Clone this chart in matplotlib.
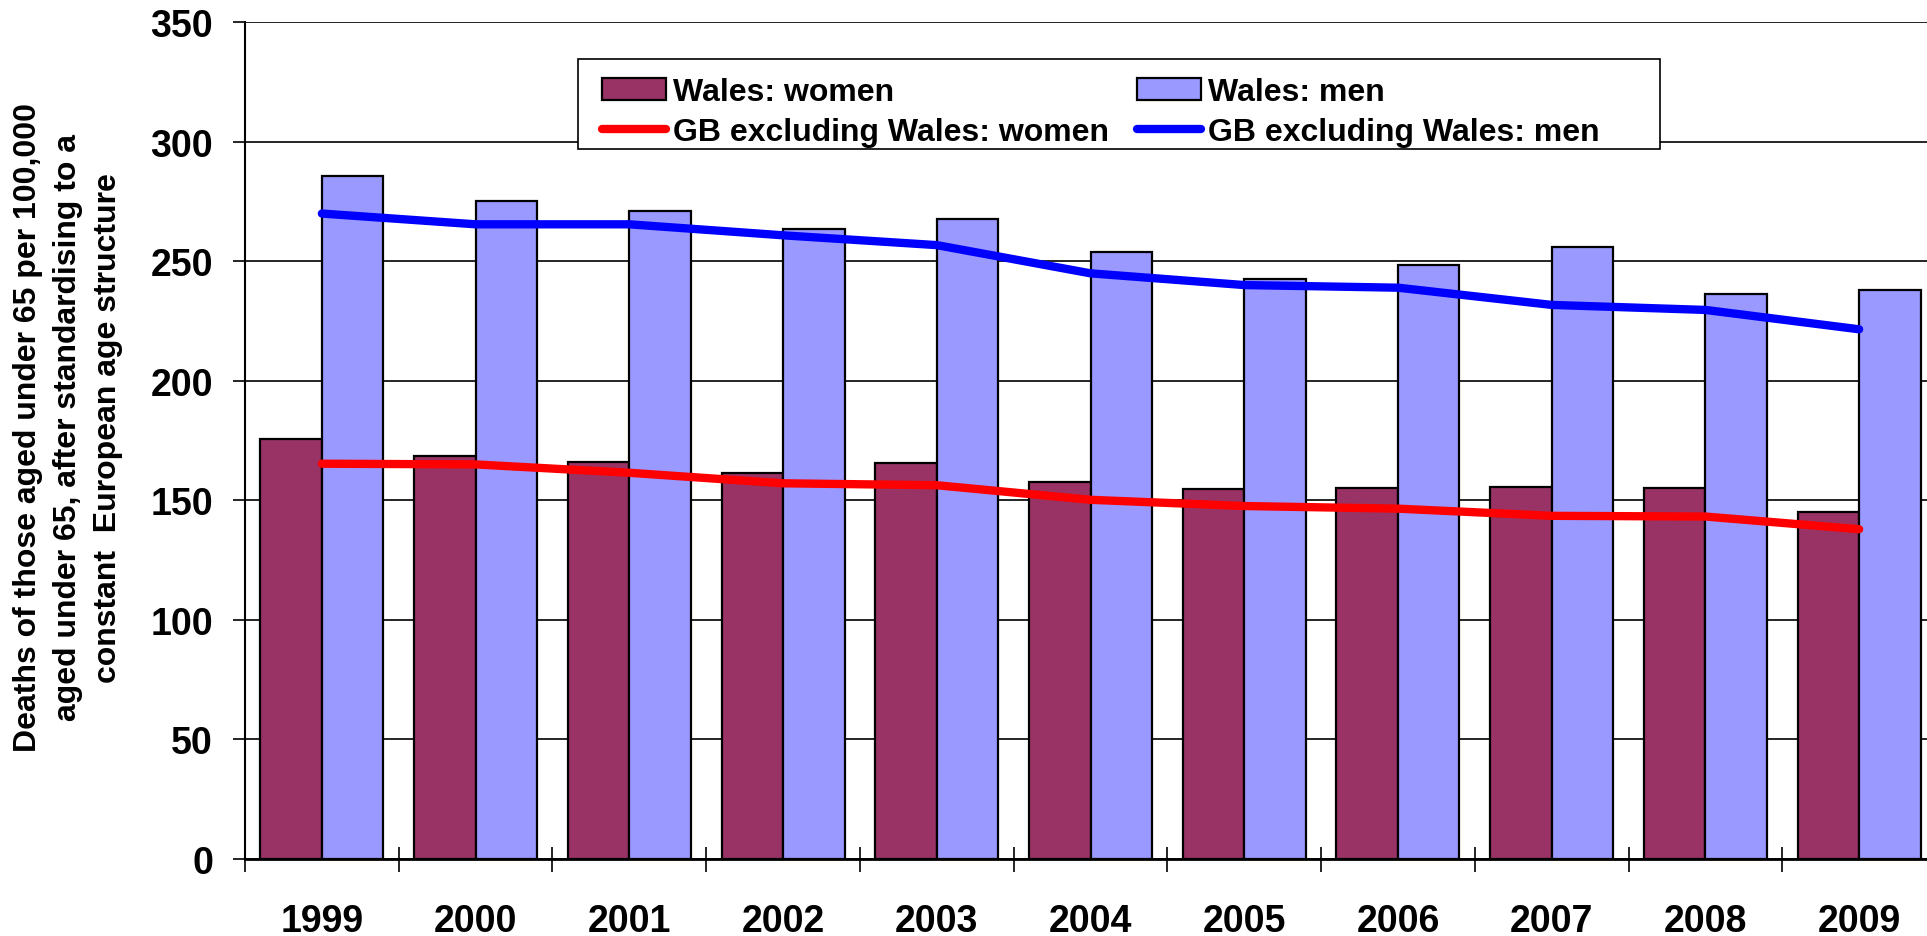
import numpy as np
import matplotlib
matplotlib.use("Agg")
import matplotlib.pyplot as plt
from matplotlib.patches import Rectangle

plt.rcParams['font.family'] = ['Liberation Sans', 'DejaVu Sans']
plt.rcParams['font.weight'] = 'bold'

years = ['1999', '2000', '2001', '2002', '2003', '2004', '2005', '2006', '2007', '2008', '2009']
wales_women = [175.5, 168.5, 166.1, 161.4, 165.7, 157.6, 154.6, 155.3, 155.7, 155.3, 145.0]
wales_men = [285.8, 275.0, 270.8, 263.5, 267.5, 253.8, 242.4, 248.5, 255.8, 236.3, 237.9]
gb_women = [165.3, 165.0, 161.5, 157.1, 156.3, 150.2, 147.6, 146.5, 143.5, 143.2, 137.9]
gb_men = [269.9, 265.4, 265.4, 260.8, 256.7, 244.9, 240.0, 238.9, 231.7, 229.6, 221.5]

W, H = 1927, 937
fig = plt.figure(figsize=(W / 100, H / 100), dpi=100)
ax = fig.add_axes([245 / W, 1 - 860 / H, (1936 - 245) / W, (860 - 23) / H])

x = np.arange(len(years))
b_women = ax.bar(x + 0.1, wales_women, width=0.4, align='edge', color='#993366',
                 edgecolor='black', linewidth=1.6, zorder=2)
b_men = ax.bar(x + 0.5, wales_men, width=0.4, align='edge', color='#9999FF',
               edgecolor='black', linewidth=1.6, zorder=2)
l_women, = ax.plot(x + 0.5, gb_women, color='#FF0000', lw=6, solid_capstyle='round',
                   solid_joinstyle='round', zorder=3)
l_men, = ax.plot(x + 0.5, gb_men, color='#0000FF', lw=6, solid_capstyle='round',
                 solid_joinstyle='round', zorder=3)

ax.set_xlim(0, len(years))
ax.set_ylim(0, 350)
ax.set_yticks(range(0, 351, 50))
ax.yaxis.grid(True, color='black', lw=1.2)
ax.set_axisbelow(True)

ax.set_xticks(x + 0.5)
ax.set_xticklabels(years, fontsize=27, fontweight='bold')
ax.set_xticks(np.arange(0, len(years) + 1), minor=True)
ax.tick_params(axis='x', which='major', length=0, pad=32)
ax.tick_params(axis='x', which='minor', direction='inout', length=18, width=1.2)
ax.tick_params(axis='y', direction='out', length=9, width=1.2, pad=14, labelsize=27)
for lab in ax.get_yticklabels():
    lab.set_fontweight('bold')

for s in ['top', 'right']:
    ax.spines[s].set_visible(False)
ax.spines['left'].set_linewidth(1.5)
ax.spines['bottom'].set_linewidth(2)

fig.text(68 / W, 1 - 428 / H,
         'Deaths of those aged under 65 per 100,000\naged under 65, after standardising to a\nconstant  European age structure',
         rotation=90, ha='center', va='center', multialignment='center',
         fontsize=23, fontweight='bold', linespacing=1.45)

# legend box
frame = Rectangle((578 / W, 1 - 150 / H), (1660 - 578) / W, (150 - 60) / H,
                  transform=fig.transFigure, facecolor='white', edgecolor='black',
                  lw=1.2, zorder=4, clip_on=False)
ax.add_patch(frame)

handles = [b_women, l_women, b_men, l_men]
labels = ['Wales: women', 'GB excluding Wales: women', 'Wales: men', 'GB excluding Wales: men']
leg = ax.legend(handles, labels, ncol=2,
                loc='upper left', bbox_to_anchor=(580 / W, 1 - 56 / H),
                bbox_transform=fig.transFigure, frameon=False,
                prop={'size': 23, 'weight': 'bold'}, handlelength=2.0,
                handletextpad=0.2, columnspacing=0.9, labelspacing=0.3,
                borderpad=0.2)
leg.set_zorder(5)

fig.savefig('out.png', dpi=100)
